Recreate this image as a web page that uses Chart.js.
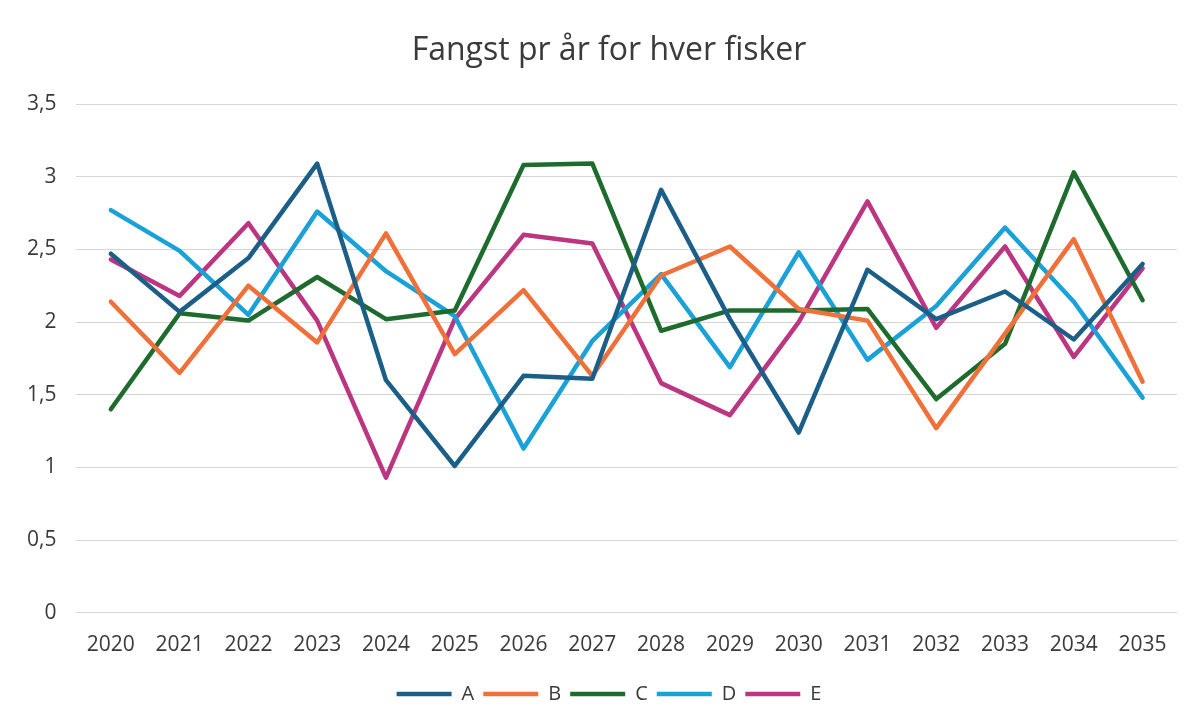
<!DOCTYPE html>
<html>
<head>
<meta charset="utf-8">
<script src="https://cdn.jsdelivr.net/npm/chart.js@4"></script>
<style>
  html, body { margin: 0; padding: 0; background: #ffffff; }
  #wrap { width: 1197px; height: 727px; position: relative; }
</style>
</head>
<body>
<div id="wrap"><canvas id="c"></canvas></div>
<script>
const categories = ['2020','2021','2022','2023','2024','2025','2026','2027','2028','2029','2030','2031','2032','2033','2034','2035'];
const seriesA = [2.47, 2.07, 2.44, 3.09, 1.60, 1.01, 1.63, 1.61, 2.91, 2.02, 1.24, 2.36, 2.02, 2.21, 1.88, 2.40];
const seriesB = [2.14, 1.65, 2.25, 1.86, 2.61, 1.78, 2.22, 1.63, 2.32, 2.52, 2.09, 2.01, 1.27, 1.92, 2.57, 1.59];
const seriesC = [1.40, 2.06, 2.01, 2.31, 2.02, 2.08, 3.08, 3.09, 1.94, 2.08, 2.08, 2.09, 1.47, 1.85, 3.03, 2.15];
const seriesD = [2.77, 2.49, 2.05, 2.76, 2.35, 2.04, 1.13, 1.87, 2.33, 1.69, 2.48, 1.74, 2.11, 2.65, 2.14, 1.48];
const seriesE = [2.43, 2.18, 2.68, 2.01, 0.93, 2.02, 2.60, 2.54, 1.58, 1.36, 2.00, 2.83, 1.96, 2.52, 1.76, 2.37];
const seriesNames = ['A','B','C','D','E'];
const yTicks = [0, 0.5, 1, 1.5, 2, 2.5, 3, 3.5];
const chartTitle = 'Fangst pr år for hver fisker';

const colors = ['#1b5f88', '#f0703a', '#1e6b2e', '#1aa2d8', '#bb3580'];
const values = [seriesA, seriesB, seriesC, seriesD, seriesE];

const datasets = seriesNames.map((n, i) => ({
  label: n,
  data: values[i],
  borderColor: colors[i],
  backgroundColor: colors[i],
  borderWidth: 4.5,
  borderCapStyle: 'round',
  borderJoinStyle: 'round',
  pointRadius: 0,
  pointHoverRadius: 0,
  tension: 0,
  fill: false
}));

const textColor = '#3a3a3a';
const fontFamily = "'Open Sans', 'Liberation Sans', sans-serif";

const titlePlugin = {
  id: 'centeredTitle',
  afterLayout(chart) {
    if (chart.legend) {
      chart.legend.left += 17;
      chart.legend.right += 17;
    }
  },
  afterDraw(chart) {
    const ctx = chart.ctx;
    ctx.save();
    ctx.font = `normal 32px ${fontFamily}`;
    ctx.fillStyle = textColor;
    ctx.textAlign = 'center';
    ctx.textBaseline = 'middle';
    ctx.fillText(chartTitle, 609, 51);
    ctx.restore();
  }
};

new Chart(document.getElementById('c'), {
  type: 'line',
  data: { labels: categories, datasets },
  plugins: [titlePlugin],
  options: {
    responsive: true,
    maintainAspectRatio: false,
    animation: false,
    layout: { padding: { left: 7, right: 20, top: 104, bottom: 13 } },
    plugins: {
      title: { display: false },
      legend: {
        display: true,
        position: 'bottom',
        labels: {
          color: textColor,
          font: { family: fontFamily, size: 20 },
          usePointStyle: true,
          pointStyle: 'line',
          pointStyleWidth: 55,
          boxHeight: 20,
          padding: 9
        }
      },
      tooltip: { enabled: false }
    },
    scales: {
      x: {
        offset: true,
        grid: { display: false, drawTicks: false },
        border: { display: false },
        afterFit: (scale) => { scale.height -= 3; },
        ticks: {
          color: textColor,
          font: { family: fontFamily, size: 21 },
          padding: 20,
          maxRotation: 0,
          autoSkip: false
        }
      },
      y: {
        min: 0,
        max: 3.5,
        afterBuildTicks: (axis) => { axis.ticks = yTicks.map(v => ({ value: v })); },
        grid: { color: '#d6d6d6', lineWidth: 1, drawTicks: false },
        border: { display: false },
        ticks: {
          color: textColor,
          font: { family: fontFamily, size: 21 },
          padding: 20,
          callback: (v) => String(v).replace('.', ',')
        }
      }
    }
  }
});
</script>
</body>
</html>
